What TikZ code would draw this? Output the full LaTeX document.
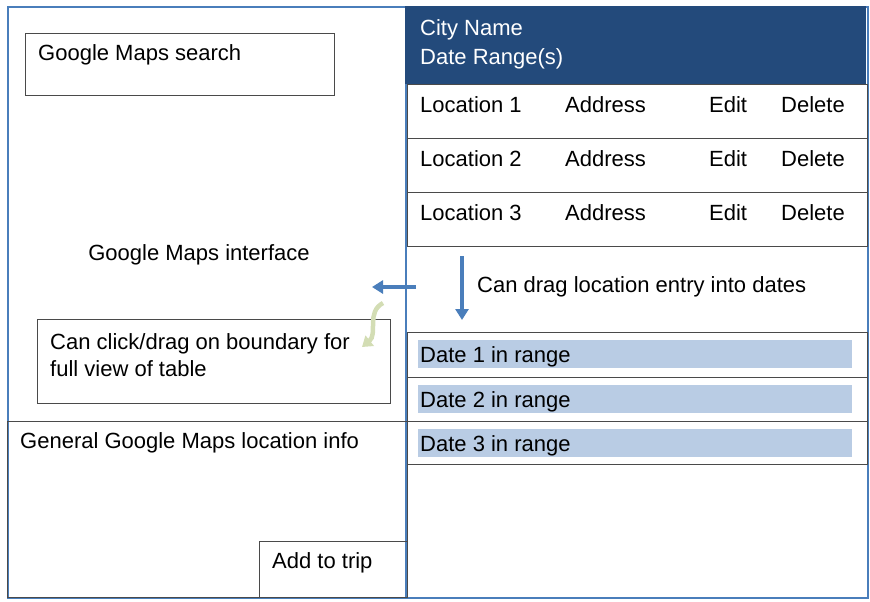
\documentclass[tikz,border=0pt]{standalone}
\usepackage{fontspec}
\setmainfont{Liberation Sans}
\usetikzlibrary{positioning, arrows.meta}

\definecolor{headblue}{HTML}{234A7B}
\definecolor{lineblue}{HTML}{4A7EBB}
\definecolor{barblue}{HTML}{B9CCE4}
\definecolor{boxgray}{HTML}{4A4A4A}
\definecolor{curvegreen}{HTML}{D3DDB4}

\begin{document}
\begin{tikzpicture}[x=1pt, y=-1pt,
font=\fontsize{22}{26}\selectfont,
box/.style = {rectangle, draw=boxgray, line width=1.3pt, anchor=north west, inner sep=0},
txt/.style = {anchor=base west, inner sep=0},
bar/.style = {rectangle, fill=barblue, anchor=north west, inner sep=0, minimum width=434, minimum height=28},
move/.style = {lineblue, line width=3.6pt, -{Triangle[length=11pt, width=13pt]}}]

\useasboundingbox (0,0) rectangle (870,602);

% panels
\node[rectangle, draw=lineblue, line width=2pt, anchor=north west, inner sep=0, minimum width=398, minimum height=591] (map) at (7,6) {};
\node[rectangle, draw=lineblue, line width=2pt, anchor=north west, inner sep=0, minimum width=462, minimum height=591] (table) at (405,6) {};
\node[rectangle, fill=headblue, anchor=north west, inner sep=0, minimum width=461, minimum height=78] (head) at (405,6) {};
\node[txt, white] (city) at (420,36) {City Name};
\node[txt, white] (range) at (420,64) {Date Range(s)};

% location rows
\foreach \i/\y in {1/84, 2/138, 3/192} {
  \node[box, minimum width=460, minimum height=54] (loc\i) at (407,\y) {};
  \node[txt] (name\i) at (420,\y+28) {Location \i};
  \node[txt] (addr\i) at (565,\y+28) {Address};
  \node[txt] (edit\i) at (709,\y+28) {Edit};
  \node[txt] (del\i) at (781,\y+28) {Delete};
}

% date rows
\foreach \i/\y/\h in {1/332/45, 2/377/44, 3/421/43} {
  \node[box, minimum width=460, minimum height=\h] (day\i) at (407,\y) {};
  \node[bar] (bar\i) at (418,\y+8) {};
  \node[txt] (date\i) at (420,\y+30) {Date \i\ in range};
}

% map side
\node[box, minimum width=309, minimum height=62] (search) at (25,33) {};
\node[txt] (searchtxt) at (38,60) {Google Maps search};
\node[anchor=base, inner sep=0] (iface) at (199,260) {Google Maps interface};
\node[box, minimum width=353, minimum height=84] (hint) at (37,319) {};
\node[txt] (hint1) at (50,349) {Can click/drag on boundary for};
\node[txt] (hint2) at (50,376) {full view of table};
\node[box, minimum width=400, minimum height=176] (info) at (7,421) {};
\node[txt] (infotxt) at (20,448) {General Google Maps location info};
\node[box, minimum width=148, minimum height=56] (add) at (259,541) {};
\node[txt] (addtxt) at (272,568) {Add to trip};

% arrows
\node[txt] (dragtxt) at (477,292) {Can drag location entry into dates};
\coordinate (ls) at (416,287);
\coordinate (le) at (372,287);
\coordinate (ds) at (462,256);
\coordinate (de) at (462,320);
\coordinate (gs) at (383,303);
\coordinate (ge) at (362,347);
\draw[move] (ls) -- (le);
\draw[move] (ds) -- (de);
\draw[curvegreen, line width=4.5pt, -{Triangle[length=10pt, width=13pt]}] (gs) .. controls (366,312) and (378,334) .. (ge);
\end{tikzpicture}
\end{document}
